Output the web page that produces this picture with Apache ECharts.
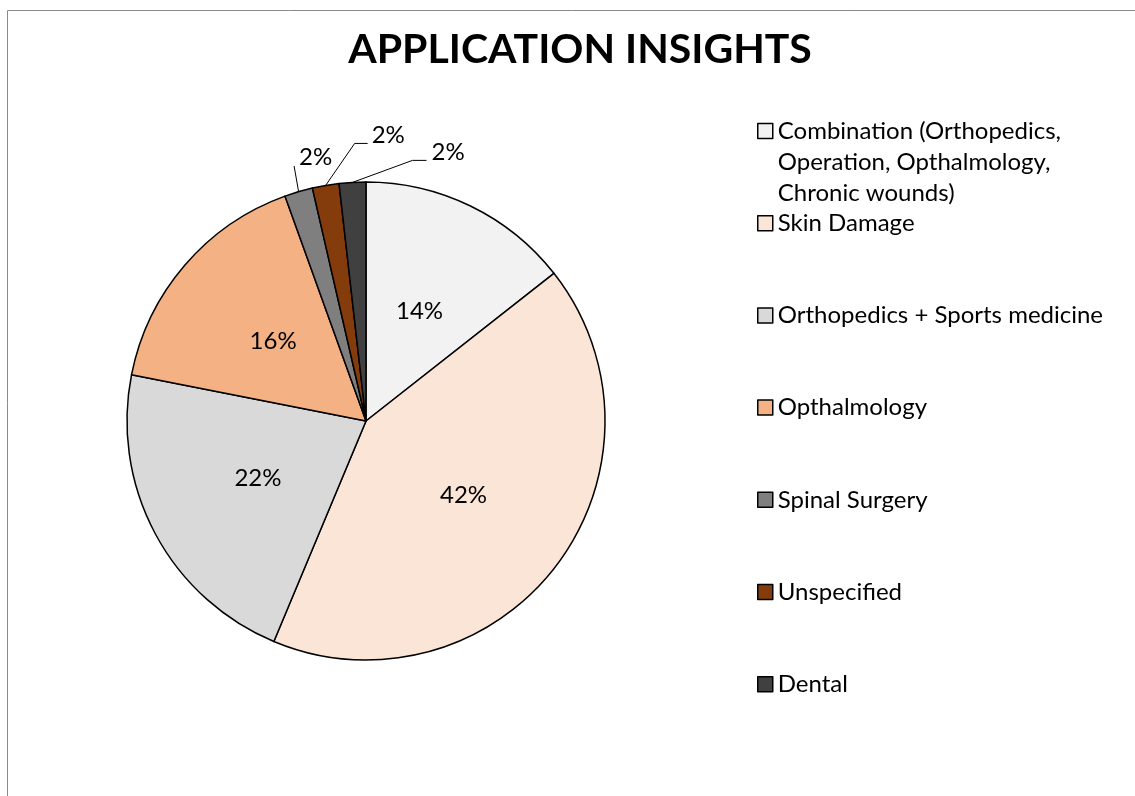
<!DOCTYPE html>
<html>
<head>
<meta charset="utf-8">
<script src="https://cdn.jsdelivr.net/npm/echarts@6/dist/echarts.min.js"></script>
<style>
html,body{margin:0;padding:0;background:#fff;}
#c{width:1135px;height:796px;}
</style>
</head>
<body>
<div id="c"></div>
<script>
const titleText = 'APPLICATION INSIGHTS';
const categories = [
  'Combination (Orthopedics, Operation, Opthalmology, Chronic wounds)',
  'Skin Damage',
  'Orthopedics + Sports medicine',
  'Opthalmology',
  'Spinal Surgery',
  'Unspecified',
  'Dental'
];
const values = [14.4, 41.9, 21.8, 16.4, 1.9, 1.8, 1.8];
const colors = ['#f2f2f2', '#fbe5d6', '#d9d9d9', '#f4b183', '#7f7f7f', '#843c0c', '#404040'];

const FONT = 'Lato';
const chart = echarts.init(document.getElementById('c'), null, {renderer: 'canvas'});

// offsets of outside labels relative to slice edge point (for the three small slices)
const outsideLayout = {
  4: {line: [[-4.5, -25.7]], label: [0.5, -34]},
  5: {line: [[29, -42], [42, -42]], label: [46, -50]},
  6: {line: [[60, -22], [74, -22]], label: [79, -30]}
};

const data = categories.map((name, i) => {
  const d = {name: name, value: values[i], itemStyle: {color: colors[i]}};
  if (outsideLayout[i]) {
    d.label = {position: 'outside'};
    d.labelLine = {show: true};
  }
  return d;
});

const LH = 31;
const legendCenter0 = 131;
const legendStep = 92.2;
const legends = categories.map((name, i) => {
  const ts = {fontFamily: FONT, fontSize: 24, color: '#000', lineHeight: LH};
  let nLines = 1;
  const leg = {
    orient: 'vertical',
    left: 757,
    itemWidth: 15,
    itemHeight: 15,
    icon: 'rect',
    padding: 0,
    itemGap: 0,
    selectedMode: false,
    data: [name],
    itemStyle: {borderColor: '#000', borderWidth: 1.5},
    textStyle: ts
  };
  if (i === 0) {
    ts.width = 335;
    ts.overflow = 'break';
    // two leading blank lines so the first text line sits level with the marker
    leg.formatter = n => '\n\n' + n;
    nLines = 5;
  }
  leg.top = legendCenter0 + i * legendStep - nLines * LH / 2;
  return leg;
});

chart.setOption({
  backgroundColor: '#fff',
  animation: false,
  title: {
    text: titleText,
    left: 575,
    textAlign: 'center',
    top: 24,
    textStyle: {fontFamily: FONT, fontWeight: 'bold', fontSize: 41, color: '#000'}
  },
  legend: legends,
  graphic: [{
    type: 'rect',
    shape: {x: 7.5, y: 10.5, width: 1300, height: 900},
    style: {fill: 'none', stroke: '#8a8a8a', lineWidth: 1},
    silent: true
  }],
  series: [{
    type: 'pie',
    center: [366, 421],
    radius: 239,
    startAngle: 90,
    clockwise: true,
    avoidLabelOverlap: false,
    itemStyle: {borderColor: '#000', borderWidth: 1.5},
    label: {
      show: true,
      position: 'inside',
      fontFamily: FONT,
      fontSize: 24,
      color: '#000',
      formatter: p => Math.round(p.percent) + '%'
    },
    labelLine: {show: false, lineStyle: {color: '#000', width: 1}},
    emphasis: {disabled: true},
    labelLayout: function (params) {
      const cfg = outsideLayout[params.dataIndex];
      if (!cfg || !params.labelLinePoints) return {};
      const e = params.labelLinePoints[0];
      const pts = [[e[0], e[1]]].concat(cfg.line.map(o => [e[0] + o[0], e[1] + o[1]]));
      return {
        x: e[0] + cfg.label[0],
        y: e[1] + cfg.label[1],
        align: 'left',
        verticalAlign: 'middle',
        labelLinePoints: pts
      };
    },
    data: data
  }]
});
</script>
</body>
</html>
